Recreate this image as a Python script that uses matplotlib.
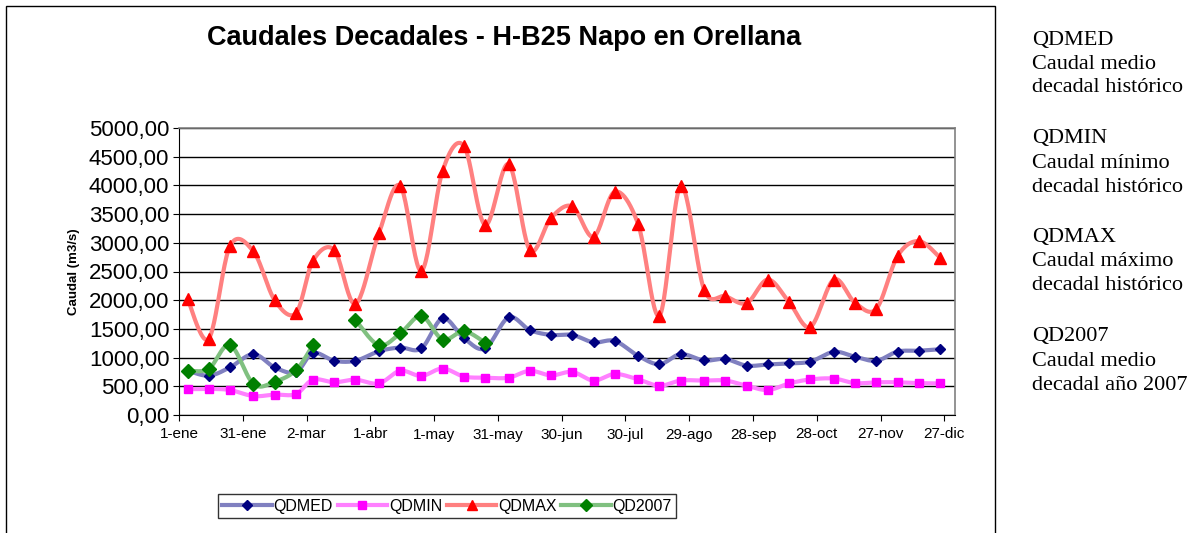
import numpy as np
import pandas as pd
import matplotlib
matplotlib.use("Agg")
import matplotlib.pyplot as plt
import matplotlib.dates as mdates
from matplotlib.patches import Rectangle

# fechas de las decadas (centro de cada decada)
fechas = pd.to_datetime([f"2007-{m:02d}-{d:02d}" for m in range(1, 13) for d in (5, 15, 25)])

qdmed = [775, 685, 830, 1060, 830, 745, 1080, 945, 945, 1110, 1175, 1160,
         1685, 1340, 1160, 1700, 1480, 1395, 1395, 1265, 1290, 1030,
         885, 1060, 950, 975, 860, 880, 900, 930, 1100, 1015, 945, 1105, 1120, 1145]
qdmin = [450, 455, 435, 330, 355, 365, 615, 570, 615, 550, 770, 680,
         810, 670, 650, 650, 770, 690, 750, 600, 715, 620,
         510, 600, 600, 600, 510, 435, 550, 620, 635, 555, 570, 570, 555, 550]
qdmax = [2025, 1330, 2945, 2850, 2000, 1775, 2685, 2875, 1935, 3165, 3995, 2510,
         4255, 4690, 3310, 4370, 2875, 3435, 3635, 3105, 3890, 3320,
         1730, 3990, 2185, 2070, 1950, 2360, 1965, 1535, 2360, 1955, 1850, 2770, 3030, 2740]
qd2007 = [770, 805, 1220, 540, 580, 780, 1220, np.nan, 1655, 1215, 1420, 1725,
          1315, 1460, 1260] + [np.nan] * 21

series = ["QDMED", "QDMIN", "QDMAX", "QD2007"]
etiquetas_x = ["1-ene", "31-ene", "2-mar", "1-abr", "1-may", "31-may", "30-jun",
               "30-jul", "29-ago", "28-sep", "28-oct", "27-nov", "27-dic"]
notas = [("QDMED", "Caudal medio", "decadal histórico"),
         ("QDMIN", "Caudal mínimo", "decadal histórico"),
         ("QDMAX", "Caudal máximo", "decadal histórico"),
         ("QD2007", "Caudal medio", "decadal año 2007")]

estilos = {
    "QDMED": dict(color="#8080c0", marker="D", mfc="#000080", mec="#000080", ms=5.5),
    "QDMIN": dict(color="#ff80ff", marker="s", mfc="#ff00ff", mec="#ff00ff", ms=6),
    "QDMAX": dict(color="#ff8080", marker="^", mfc="#ff0000", mec="#ff0000", ms=8),
    "QD2007": dict(color="#80c080", marker="D", mfc="#008000", mec="#008000", ms=7),
}


def suavizar(x, y, n=24):
    # curva suave tipo excel (catmull-rom), separando huecos
    x = np.asarray(x, float)
    y = np.asarray(y, float)
    tramos = []
    idx = np.where(~np.isnan(y))[0]
    if len(idx) == 0:
        return tramos
    cortes = np.split(idx, np.where(np.diff(idx) > 1)[0] + 1)
    for c in cortes:
        px, py = x[c], y[c]
        if len(px) < 2:
            continue
        xs, ys = [], []
        t = np.linspace(0, 1, n, endpoint=False)
        for i in range(len(px) - 1):
            i0 = max(i - 1, 0)
            i3 = min(i + 2, len(px) - 1)
            for P, out in ((px, xs), (py, ys)):
                p0, p1, p2, p3 = P[i0], P[i], P[i + 1], P[i3]
                out.extend(0.5 * (2 * p1 + (-p0 + p2) * t
                                  + (2 * p0 - 5 * p1 + 4 * p2 - p3) * t ** 2
                                  + (-p0 + 3 * p1 - 3 * p2 + p3) * t ** 3))
        xs.append(px[-1])
        ys.append(py[-1])
        tramos.append((np.array(xs), np.array(ys)))
    return tramos


W, H = 1196, 533
fig = plt.figure(figsize=(W / 100, H / 100), dpi=100)
plt.rcParams['font.family'] = ['Liberation Sans', 'DejaVu Sans']

ax = fig.add_axes([179 / W, 1 - 415 / H, (955 - 179) / W, (415 - 128) / H])

x = mdates.date2num(fechas)
datos = {"QDMED": qdmed, "QDMIN": qdmin, "QDMAX": qdmax, "QD2007": qd2007}
for nombre in series:
    e = estilos[nombre]
    for xs, ys in suavizar(x, datos[nombre]):
        ax.plot(xs, ys, color=e["color"], lw=3, solid_capstyle="round", zorder=3)
    ax.plot(x, datos[nombre], ls="none", marker=e["marker"], mfc=e["mfc"],
            mec=e["mec"], ms=e["ms"], zorder=4)

ax.set_xlim(mdates.date2num(pd.Timestamp("2007-01-01")),
            mdates.date2num(pd.Timestamp("2008-01-01")))
ax.set_ylim(0, 5000)
ticks_x = mdates.date2num(pd.date_range("2007-01-01", periods=len(etiquetas_x), freq="30D"))
ax.set_xticks(ticks_x)
ax.set_xticklabels(etiquetas_x, fontsize=11)
ax.set_yticks(np.arange(0, 5001, 500))
ax.set_yticklabels([f"{v:.2f}".replace(".", ",") for v in np.arange(0, 5001, 500)], fontsize=16)
ax.tick_params(direction="out", length=4, color="black", pad=3)
ax.tick_params(axis="x", pad=5)
ax.grid(axis="y", color="black", lw=1)
ax.set_axisbelow(True)
for s in ("top", "right"):
    ax.spines[s].set_color("#808080")
    ax.spines[s].set_linewidth(1.2)
ax.spines["left"].set_color("black")
ax.spines["bottom"].set_color("black")
ax.set_ylabel("Caudal (m3/s)", fontsize=9.5, fontweight="bold", labelpad=6)

fig.text(504 / W, 1 - 38 / H, "Caudales Decadales - H-B25 Napo en Orellana",
         ha="center", va="center", fontsize=19.5, fontweight="bold")

# leyenda
handles = []
for nombre in series:
    e = estilos[nombre]
    h, = ax.plot([], [], color=e["color"], lw=3, marker=e["marker"], mfc=e["mfc"],
                 mec=e["mec"], ms=e["ms"] * 0.9)
    handles.append(h)
leg = fig.legend(handles, series, loc="center", bbox_to_anchor=(447 / W, 1 - 506 / H),
                 ncol=4, fontsize=11.5, frameon=True, fancybox=False, handlelength=3.1,
                 columnspacing=0.3, handletextpad=0.1, borderpad=0.3, borderaxespad=0)
leg.get_frame().set_edgecolor("black")
leg.get_frame().set_linewidth(1)

# borde del grafico
fig.add_artist(Rectangle((6 / W, -0.05), (995 - 6) / W, 1.05 - 6 / H,
                         transform=fig.transFigure, fill=False, ec="black", lw=1))

# notas a la derecha
for i, bloque in enumerate(notas):
    for j, linea in enumerate(bloque):
        fig.text(1032 / W, 1 - (40 + 99 * i + 24 * j) / H, linea, ha="left", va="center",
                 fontsize=16, family=["Liberation Serif", "DejaVu Serif"])

fig.savefig("out.png", dpi=100)
